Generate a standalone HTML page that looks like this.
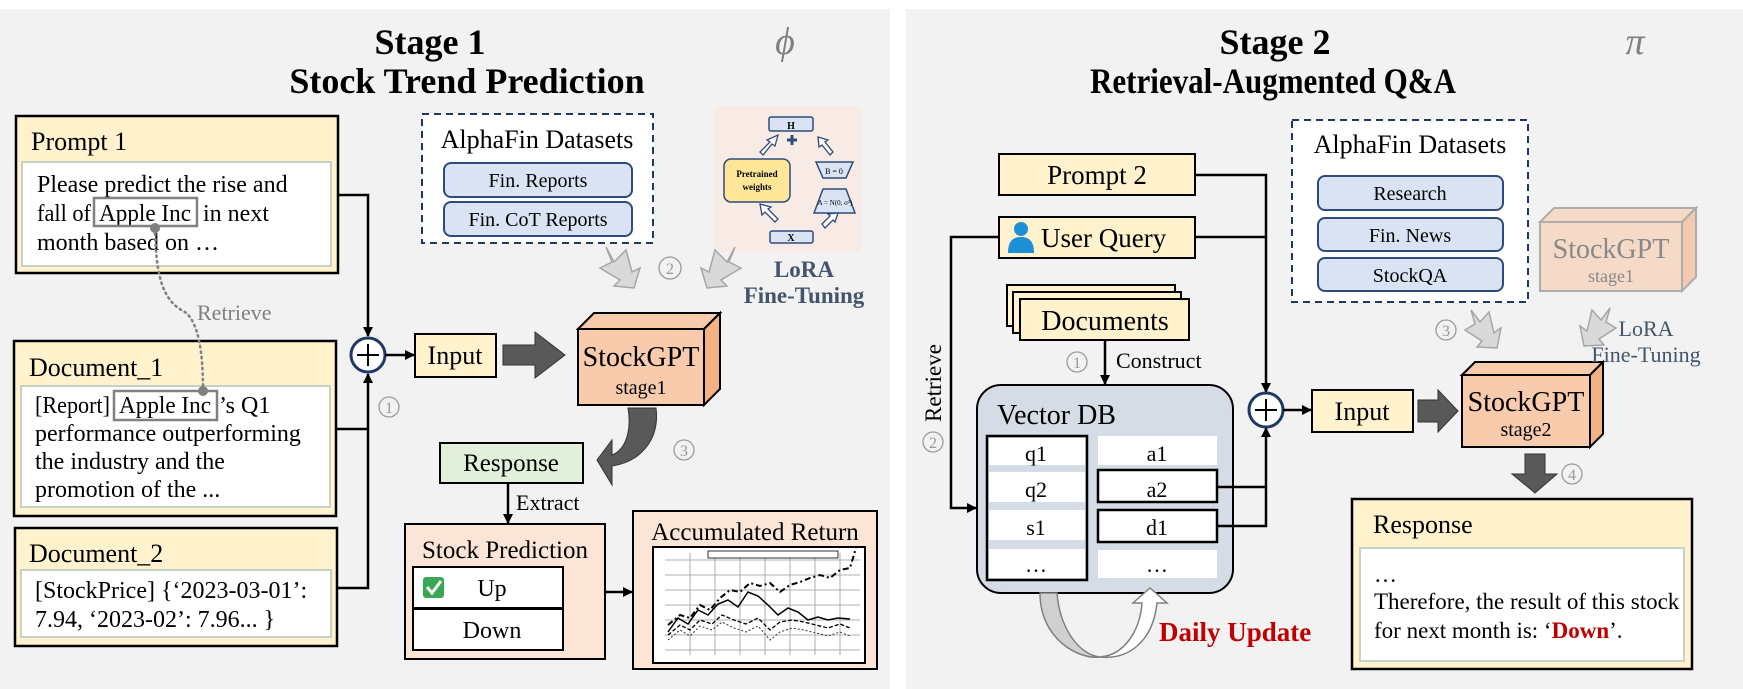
<!DOCTYPE html>
<html><head><meta charset="utf-8"><style>
html,body{margin:0;padding:0;background:#fff}
svg{display:block}
text{font-family:"Liberation Serif",serif}
</style></head><body>
<svg width="1743" height="689" viewBox="0 0 1743 689" xmlns="http://www.w3.org/2000/svg">
<defs>
<marker id="ah" markerWidth="10" markerHeight="10" refX="9" refY="5" orient="auto" markerUnits="userSpaceOnUse"><path d="M0,0 L10,5 L0,10 z" fill="#000"/></marker>
</defs>
<rect x="0" y="9" width="890" height="680" fill="#f2f2f2"/>
<rect x="906" y="9" width="837" height="680" fill="#f2f2f2"/>

<!-- ===== Stage 1 ===== -->
<text x="430" y="54" font-size="36" font-weight="bold" text-anchor="middle">Stage 1</text>
<text x="467" y="93" font-size="36" font-weight="bold" text-anchor="middle">Stock Trend Prediction</text>
<text x="785" y="54" font-size="38" font-style="italic" fill="#808080" text-anchor="middle">ϕ</text>

<rect x="16" y="116" width="322" height="157" fill="#fff2cc" stroke="#000" stroke-width="2.5"/>
<text x="31" y="150" font-size="26">Prompt 1</text>
<rect x="22" y="162" width="309" height="104" fill="#fff" stroke="#c5d3c5" stroke-width="2"/>
<text x="37" y="192" font-size="24">Please predict the rise and</text>
<text x="37" y="221" font-size="24" textLength="54" lengthAdjust="spacingAndGlyphs">fall of</text>
<text x="99" y="221" font-size="24" textLength="92" lengthAdjust="spacingAndGlyphs">Apple Inc</text>
<text x="203" y="221" font-size="24">in next</text>
<text x="37" y="250" font-size="24">month based on …</text>
<rect x="94" y="198" width="103" height="28" fill="none" stroke="#808080" stroke-width="2.5"/>

<rect x="14" y="341" width="322" height="175" fill="#fff2cc" stroke="#000" stroke-width="2.5"/>
<text x="29" y="376" font-size="26">Document_1</text>
<rect x="21" y="386" width="309" height="121" fill="#fff" stroke="#c5d3c5" stroke-width="2"/>
<text x="35" y="413" font-size="24" textLength="75" lengthAdjust="spacingAndGlyphs">[Report]</text>
<text x="119" y="413" font-size="24" textLength="92" lengthAdjust="spacingAndGlyphs">Apple Inc</text>
<text x="219" y="413" font-size="24">’s Q1</text>
<text x="35" y="441" font-size="24">performance outperforming</text>
<text x="35" y="469" font-size="24">the industry and the</text>
<text x="35" y="497" font-size="24">promotion of the ...</text>
<rect x="114" y="391" width="103" height="29" fill="none" stroke="#808080" stroke-width="2.5"/>

<path d="M155,228 C156,270 160,300 185,312 C198,322 203,350 203,391" fill="none" stroke="#808080" stroke-width="2.5" stroke-dasharray="1.5,4" stroke-linecap="round"/>
<circle cx="155" cy="228" r="5" fill="#808080"/>
<circle cx="203" cy="391" r="5" fill="#808080"/>
<text x="197" y="320" font-size="22" fill="#808080">Retrieve</text>

<rect x="15" y="528" width="322" height="118" fill="#fff2cc" stroke="#000" stroke-width="2.5"/>
<text x="29" y="562" font-size="26">Document_2</text>
<rect x="21" y="570" width="310" height="67" fill="#fff" stroke="#c5d3c5" stroke-width="2"/>
<text x="35" y="598" font-size="24">[StockPrice] {‘2023-03-01’:</text>
<text x="35" y="627" font-size="24">7.94, ‘2023-02’: 7.96... }</text>

<polyline points="338,195 368,195 368,336" fill="none" stroke="#000" stroke-width="2.5" marker-end="url(#ah)"/>
<polyline points="336,429 368,429" fill="none" stroke="#000" stroke-width="2.5"/>
<polyline points="337,588 368,588 368,374" fill="none" stroke="#000" stroke-width="2.5" marker-end="url(#ah)"/>
<circle cx="368" cy="355" r="17" fill="#fff" stroke="#1f3864" stroke-width="3"/>
<path d="M357,355 H379 M368,344 V366" stroke="#000" stroke-width="2"/>
<circle cx="389" cy="407" r="10" fill="none" stroke="#999" stroke-width="1.3"/>
<text x="389" y="413" font-size="16" fill="#999" text-anchor="middle">1</text>
<line x1="385" y1="355" x2="414" y2="355" stroke="#000" stroke-width="2.5" marker-end="url(#ah)"/>

<rect x="415" y="334" width="81" height="43" fill="#fff2cc" stroke="#000" stroke-width="2"/>
<text x="455" y="364" font-size="26" text-anchor="middle">Input</text>
<path d="M503,345 H535 V332 L565,355 L535,378 V365 H503 z" fill="#595959" stroke="#333" stroke-width="1"/>

<polygon points="578,329 594,313 720,313 704,329" fill="#f8cbad" stroke="#000" stroke-width="2"/>
<polygon points="704,329 720,313 720,389 704,405" fill="#f4b183" stroke="#000" stroke-width="2"/>
<rect x="578" y="329" width="126" height="76" fill="#f8cbad" stroke="#000" stroke-width="2"/>
<text x="641" y="366" font-size="28" text-anchor="middle">StockGPT</text>
<text x="641" y="394" font-size="20" text-anchor="middle">stage1</text>

<rect x="422" y="114" width="231" height="129" fill="#fff" stroke="#1f3864" stroke-width="2" stroke-dasharray="7,5"/>
<text x="537" y="148" font-size="26" text-anchor="middle">AlphaFin Datasets</text>
<rect x="444" y="163" width="188" height="34" rx="7" fill="#dae3f3" stroke="#2f4b7c" stroke-width="2"/>
<text x="538" y="187" font-size="20" text-anchor="middle">Fin. Reports</text>
<rect x="444" y="202" width="188" height="34" rx="7" fill="#dae3f3" stroke="#2f4b7c" stroke-width="2"/>
<text x="538" y="226" font-size="20" text-anchor="middle">Fin. CoT Reports</text>

<rect x="715" y="106" width="146" height="146" fill="#f8ebe6"/>
<rect x="769" y="117" width="44" height="14" rx="2" fill="#dae3f3" stroke="#2f4b7c" stroke-width="1.5"/>
<text x="791" y="129" font-size="10" font-weight="bold" text-anchor="middle">H</text>
<path d="M787,140 H797 M792,135 V145" stroke="#2f4b7c" stroke-width="3"/>
<rect x="724" y="159" width="66" height="43" rx="7" fill="#ffe699" stroke="#2f4b7c" stroke-width="1.5"/>
<text x="757" y="177" font-size="9" font-family="Liberation Sans" text-anchor="middle" font-weight="bold">Pretrained</text>
<text x="757" y="190" font-size="9" font-family="Liberation Sans" text-anchor="middle" font-weight="bold">weights</text>
<polygon points="816,162 853,162 846,178 823,178" fill="#dae3f3" stroke="#2f4b7c" stroke-width="1.5"/>
<text x="834" y="174" font-size="8" text-anchor="middle">B = 0</text>
<polygon points="823,189 846,189 855,213 814,213" fill="#dae3f3" stroke="#2f4b7c" stroke-width="1.5"/>
<text x="835" y="205" font-size="7" text-anchor="middle">A = N(0, σ²)</text>
<rect x="770" y="231" width="43" height="12" rx="2" fill="#dae3f3" stroke="#2f4b7c" stroke-width="1.5"/>
<text x="791" y="241" font-size="10" font-weight="bold" text-anchor="middle">X</text>
<path d="M760,152 L770,142 L767,140 L778,135 L775,146 L772,144 L763,155 z" fill="#fff" stroke="#2f4b7c" stroke-width="1.3"/>
<path d="M775,222 L765,212 L762,215 L760,204 L771,207 L768,209 L778,219 z" fill="#fff" stroke="#2f4b7c" stroke-width="1.3"/>
<path d="M830,155 L822,145 L819,147 L818,137 L828,140 L825,142 L833,152 z" fill="#fff" stroke="#2f4b7c" stroke-width="1.3"/>
<path d="M822,224 L830,216 L828,214 L838,213 L835,222 L833,220 L825,228 z" fill="#fff" stroke="#2f4b7c" stroke-width="1.3"/>

<text x="804" y="277" font-size="23" font-weight="bold" fill="#44546a" text-anchor="middle">LoRA</text>
<text x="804" y="303" font-size="23" font-weight="bold" fill="#44546a" text-anchor="middle">Fine-Tuning</text>

<path d="M606,247 L614,262 L626,250 L632,272 L640,268 L634,288 L614,286 L620,280 L600,268 L612,262 z" fill="#d9d9d9" stroke="#a6a6a6" stroke-width="1.5"/>
<circle cx="670" cy="268" r="11" fill="none" stroke="#999" stroke-width="1.3"/>
<text x="670" y="274" font-size="16" fill="#999" text-anchor="middle">2</text>
<path d="M735,247 L727,262 L715,250 L709,272 L701,268 L707,288 L727,286 L721,280 L741,268 L729,262 z" fill="#d9d9d9" stroke="#a6a6a6" stroke-width="1.5"/>

<path d="M628,408 L656,408 C660,440 640,462 612,466 L612,485 L597,460 L612,440 L612,455 C625,450 632,432 628,408 z" fill="#595959" stroke="#333" stroke-width="1"/>
<circle cx="684" cy="450" r="10" fill="none" stroke="#999" stroke-width="1.3"/>
<text x="684" y="456" font-size="16" fill="#999" text-anchor="middle">3</text>

<rect x="440" y="443" width="143" height="40" fill="#e2efda" stroke="#000" stroke-width="2"/>
<text x="511" y="471" font-size="25" text-anchor="middle">Response</text>
<line x1="508" y1="483" x2="508" y2="523" stroke="#000" stroke-width="2.5" marker-end="url(#ah)"/>
<text x="516" y="510" font-size="22">Extract</text>

<rect x="405" y="524" width="200" height="135" fill="#fbe5d6" stroke="#000" stroke-width="2"/>
<text x="505" y="558" font-size="25" text-anchor="middle">Stock Prediction</text>
<rect x="413" y="567" width="150" height="41" fill="#fff" stroke="#000" stroke-width="2"/>
<rect x="413" y="609" width="150" height="41" fill="#fff" stroke="#000" stroke-width="2"/>
<rect x="423" y="577" width="21" height="21" rx="3" fill="#3aa757"/>
<path d="M427,587 L432,593 L441,581" fill="none" stroke="#fff" stroke-width="3"/>
<text x="492" y="596" font-size="24" text-anchor="middle">Up</text>
<text x="492" y="638" font-size="24" text-anchor="middle">Down</text>
<line x1="605" y1="592" x2="632" y2="592" stroke="#000" stroke-width="2.5" marker-end="url(#ah)"/>

<rect x="633" y="511" width="244" height="158" fill="#fbe5d6" stroke="#000" stroke-width="2"/>
<text x="755" y="540" font-size="25" text-anchor="middle">Accumulated Return</text>
<rect x="653" y="547" width="212" height="116" fill="#fff" stroke="#000" stroke-width="2"/>
<g stroke="#999" stroke-width="0.8">
<line x1="665" y1="560" x2="860" y2="560"/><line x1="665" y1="575" x2="860" y2="575"/><line x1="665" y1="590" x2="860" y2="590"/><line x1="665" y1="605" x2="860" y2="605"/><line x1="665" y1="620" x2="860" y2="620"/><line x1="665" y1="635" x2="860" y2="635"/><line x1="665" y1="650" x2="860" y2="650"/>
<line x1="690" y1="553" x2="690" y2="655"/><line x1="715" y1="553" x2="715" y2="655"/><line x1="740" y1="553" x2="740" y2="655"/><line x1="765" y1="553" x2="765" y2="655"/><line x1="790" y1="553" x2="790" y2="655"/><line x1="815" y1="553" x2="815" y2="655"/><line x1="840" y1="553" x2="840" y2="655"/>
</g>
<rect x="708" y="551" width="130" height="7" fill="#fff" stroke="#000" stroke-width="0.8"/>
<polyline points="668,625 680,615 690,618 700,605 710,610 720,598 730,590 740,592 750,583 760,586 770,583 780,592 790,585 800,582 810,578 820,575 830,578 840,570 850,568 856,548" fill="none" stroke="#000" stroke-width="2" stroke-dasharray="6,3,2,3"/>
<polyline points="668,632 678,618 688,624 698,610 708,615 718,604 728,600 738,607 748,592 758,596 768,605 778,615 788,608 798,612 808,620 818,617 828,620 838,618 850,619" fill="none" stroke="#000" stroke-width="1.5"/>
<polyline points="668,635 680,625 690,630 700,620 712,624 722,615 734,620 746,624 758,618 770,630 780,622 792,620 804,622 816,625 828,628 840,624 850,628" fill="none" stroke="#000" stroke-width="1.3" stroke-dasharray="4,2"/>
<polyline points="668,640 680,630 690,636 700,626 712,630 722,622 734,628 746,632 758,626 770,640 780,632 792,628 804,630 816,633 828,636 840,632 850,636" fill="none" stroke="#333" stroke-width="1" stroke-dasharray="2,2"/>

<!-- ===== Stage 2 ===== -->
<text x="1275" y="54" font-size="36" font-weight="bold" text-anchor="middle">Stage 2</text>
<text x="1273" y="93" font-size="36" font-weight="bold" text-anchor="middle" textLength="366" lengthAdjust="spacingAndGlyphs">Retrieval-Augmented Q&amp;A</text>
<text x="1635" y="54" font-size="38" font-style="italic" fill="#808080" text-anchor="middle">π</text>

<rect x="999" y="154" width="196" height="41" fill="#fff2cc" stroke="#000" stroke-width="2"/>
<text x="1097" y="184" font-size="27" text-anchor="middle">Prompt 2</text>
<rect x="999" y="217" width="196" height="41" fill="#fff2cc" stroke="#000" stroke-width="2"/>
<circle cx="1021" cy="229" r="7" fill="#1c8fd6"/>
<path d="M1008,253 C1008,240 1014,237 1021,237 C1028,237 1034,240 1034,253 z" fill="#1c8fd6"/>
<text x="1041" y="247" font-size="27">User Query</text>

<polyline points="1195,175 1266,175 1266,392" fill="none" stroke="#000" stroke-width="2.5" marker-end="url(#ah)"/>
<line x1="1195" y1="237" x2="1266" y2="237" stroke="#000" stroke-width="2.5"/>
<polyline points="999,237 951,237 951,508 976,508" fill="none" stroke="#000" stroke-width="2.5" marker-end="url(#ah)"/>
<text transform="translate(941,383) rotate(-90)" font-size="23" text-anchor="middle">Retrieve</text>
<circle cx="933" cy="442" r="10" fill="none" stroke="#999" stroke-width="1.3"/>
<text x="933" y="448" font-size="16" fill="#999" text-anchor="middle">2</text>

<rect x="1007" y="285" width="168" height="41" fill="#fff2cc" stroke="#000" stroke-width="2"/>
<rect x="1013" y="292" width="168" height="41" fill="#fff2cc" stroke="#000" stroke-width="2"/>
<rect x="1020" y="299" width="169" height="41" fill="#fff2cc" stroke="#000" stroke-width="2"/>
<text x="1105" y="330" font-size="28" text-anchor="middle">Documents</text>
<line x1="1105" y1="340" x2="1105" y2="384" stroke="#000" stroke-width="2.5" marker-end="url(#ah)"/>
<text x="1116" y="368" font-size="22">Construct</text>
<circle cx="1077" cy="362" r="10" fill="none" stroke="#999" stroke-width="1.3"/>
<text x="1077" y="368" font-size="16" fill="#999" text-anchor="middle">1</text>

<rect x="977" y="385" width="256" height="208" rx="24" fill="#d6dce5" stroke="#000" stroke-width="2"/>
<text x="997" y="424" font-size="28">Vector DB</text>
<rect x="987" y="436" width="100" height="144" fill="#d6dce5" stroke="#000" stroke-width="2.5"/>
<rect x="989" y="438" width="96" height="27" fill="#fff"/>
<rect x="989" y="472" width="96" height="30" fill="#fff"/>
<rect x="989" y="510" width="96" height="30" fill="#fff"/>
<rect x="989" y="549" width="96" height="29" fill="#fff"/>
<text x="1036" y="461" font-size="22" text-anchor="middle">q1</text>
<text x="1036" y="497" font-size="22" text-anchor="middle">q2</text>
<text x="1036" y="535" font-size="22" text-anchor="middle">s1</text>
<text x="1036" y="572" font-size="22" text-anchor="middle">…</text>
<rect x="1098" y="436" width="119" height="29" fill="#fff"/>
<rect x="1098" y="470" width="119" height="32" fill="#fff" stroke="#000" stroke-width="2.5"/>
<rect x="1098" y="510" width="119" height="32" fill="#fff" stroke="#000" stroke-width="2.5"/>
<rect x="1098" y="550" width="119" height="28" fill="#fff"/>
<text x="1157" y="461" font-size="22" text-anchor="middle">a1</text>
<text x="1157" y="497" font-size="22" text-anchor="middle">a2</text>
<text x="1157" y="535" font-size="22" text-anchor="middle">d1</text>
<text x="1157" y="572" font-size="22" text-anchor="middle">…</text>
<polyline points="1217,487 1266,487" fill="none" stroke="#000" stroke-width="2.5"/>
<polyline points="1217,526 1266,526 1266,428" fill="none" stroke="#000" stroke-width="2.5" marker-end="url(#ah)"/>
<circle cx="1266" cy="410" r="17" fill="#fff" stroke="#1f3864" stroke-width="3"/>
<path d="M1255,410 H1277 M1266,399 V421" stroke="#000" stroke-width="2"/>
<line x1="1283" y1="410" x2="1311" y2="410" stroke="#000" stroke-width="2.5" marker-end="url(#ah)"/>

<path d="M1040,593 L1057,593 C1060,630 1080,655 1100,657 C1080,660 1040,640 1040,593 z" fill="#d0d0d0" stroke="#808080" stroke-width="1.5"/>
<path d="M1100,657 C1125,655 1140,630 1142,603 L1133,603 L1150,588 L1167,603 L1157,603 C1153,640 1130,660 1100,657 z" fill="#fff" stroke="#808080" stroke-width="1.5"/>
<text x="1159" y="641" font-size="27" font-weight="bold" fill="#c00000">Daily Update</text>

<rect x="1312" y="390" width="101" height="42" fill="#fff2cc" stroke="#000" stroke-width="2"/>
<text x="1362" y="420" font-size="26" text-anchor="middle">Input</text>
<path d="M1418,400 H1438 V390 L1458,411 L1438,432 V422 H1418 z" fill="#595959" stroke="#333" stroke-width="1"/>

<polygon points="1462,375 1475,362 1603,362 1590,375" fill="#f8cbad" stroke="#000" stroke-width="2"/>
<polygon points="1590,375 1603,362 1603,434 1590,447" fill="#f4b183" stroke="#000" stroke-width="2"/>
<rect x="1462" y="375" width="128" height="72" fill="#f8cbad" stroke="#000" stroke-width="2"/>
<text x="1526" y="411" font-size="28" text-anchor="middle">StockGPT</text>
<text x="1526" y="436" font-size="20" text-anchor="middle">stage2</text>
<path d="M1525,454 H1545 V474 H1557 L1535,493 L1512,474 H1525 z" fill="#595959" stroke="#333" stroke-width="1"/>
<circle cx="1572" cy="474" r="10" fill="none" stroke="#999" stroke-width="1.3"/>
<text x="1572" y="480" font-size="16" fill="#999" text-anchor="middle">4</text>

<rect x="1352" y="499" width="340" height="170" fill="#fff2cc" stroke="#000" stroke-width="2.5"/>
<text x="1373" y="533" font-size="26">Response</text>
<rect x="1360" y="548" width="324" height="113" fill="#fff" stroke="#c5d3c5" stroke-width="2"/>
<text x="1374" y="582" font-size="23">…</text>
<text x="1374" y="609" font-size="23">Therefore, the result of this stock</text>
<text x="1374" y="638" font-size="23">for next month is: ‘<tspan fill="#c00000" font-weight="bold">Down</tspan>’.</text>

<rect x="1292" y="120" width="236" height="182" fill="#fff" stroke="#1f3864" stroke-width="2" stroke-dasharray="7,5"/>
<text x="1410" y="153" font-size="26" text-anchor="middle">AlphaFin Datasets</text>
<rect x="1318" y="176" width="185" height="34" rx="7" fill="#dae3f3" stroke="#2f4b7c" stroke-width="2"/>
<text x="1410" y="200" font-size="20" text-anchor="middle">Research</text>
<rect x="1318" y="218" width="185" height="33" rx="7" fill="#dae3f3" stroke="#2f4b7c" stroke-width="2"/>
<text x="1410" y="242" font-size="20" text-anchor="middle">Fin. News</text>
<rect x="1318" y="258" width="185" height="33" rx="7" fill="#dae3f3" stroke="#2f4b7c" stroke-width="2"/>
<text x="1410" y="282" font-size="20" text-anchor="middle">StockQA</text>

<circle cx="1446" cy="330" r="10" fill="none" stroke="#999" stroke-width="1.3"/>
<text x="1446" y="336" font-size="16" fill="#999" text-anchor="middle">3</text>
<path d="M1471,310 L1480,322 L1489,312 L1494,333 L1501,328 L1497,348 L1477,347 L1482,341 L1465,330 L1475,324 z" fill="#d9d9d9" stroke="#a6a6a6" stroke-width="1.5"/>

<g opacity="0.6">
<polygon points="1540,222 1554,208 1696,208 1682,222" fill="#f8cbad" stroke="#808080" stroke-width="2"/>
<polygon points="1682,222 1696,208 1696,277 1682,291" fill="#f4b183" stroke="#808080" stroke-width="2"/>
<rect x="1540" y="222" width="142" height="69" fill="#f8cbad" stroke="#808080" stroke-width="2"/>
</g>
<text x="1611" y="258" font-size="28" fill="#888" text-anchor="middle">StockGPT</text>
<text x="1611" y="282" font-size="18" fill="#888" text-anchor="middle">stage1</text>
<path d="M1610,308 L1601,320 L1592,310 L1587,331 L1580,326 L1584,346 L1604,345 L1599,339 L1616,328 L1606,322 z" fill="#d9d9d9" stroke="#a6a6a6" stroke-width="1.5"/>
<text x="1646" y="336" font-size="22" fill="#44546a" text-anchor="middle">LoRA</text>
<text x="1646" y="362" font-size="22" fill="#44546a" text-anchor="middle">Fine-Tuning</text>
</svg>
</body></html>
